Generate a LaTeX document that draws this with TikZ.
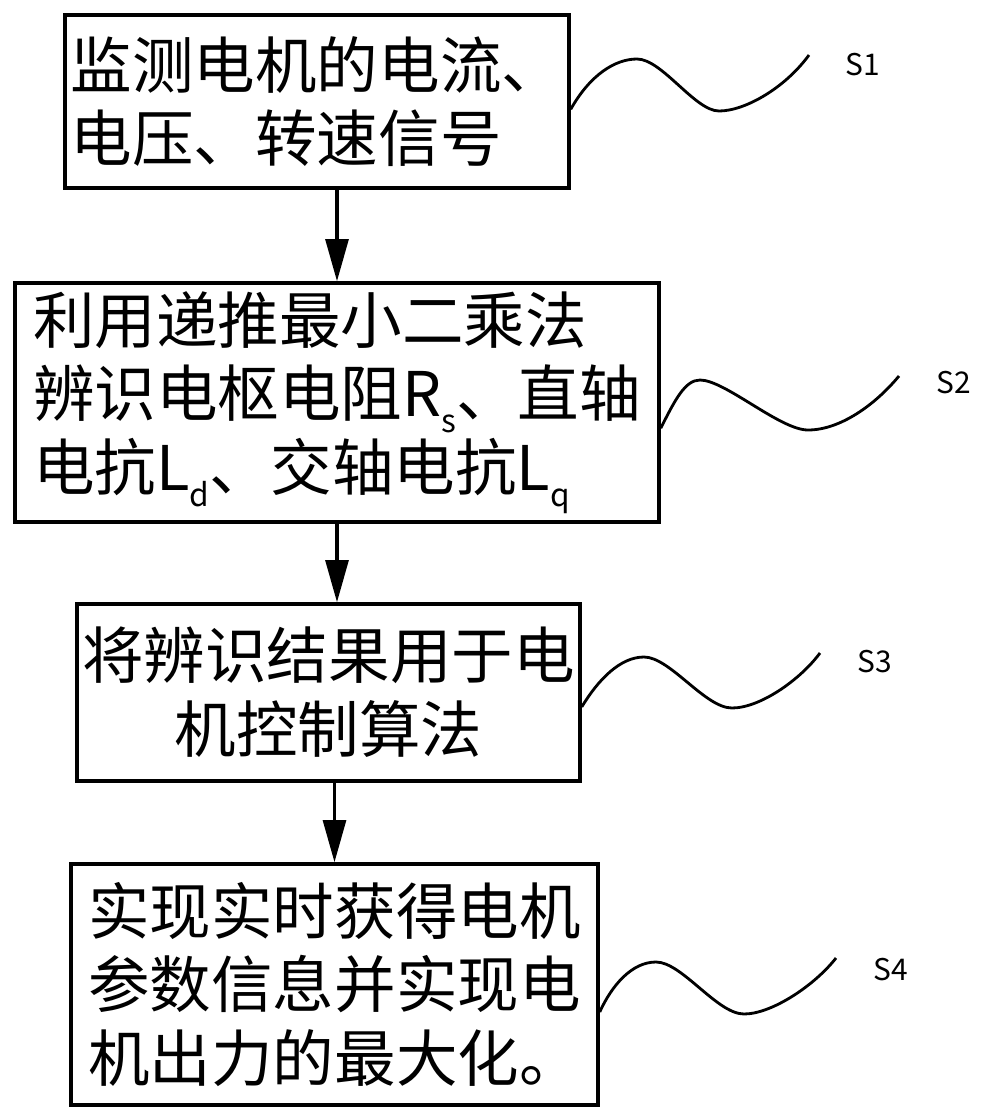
\documentclass[tikz,border=0pt]{standalone}
\usepackage{fontspec}
\setmainfont{Noto Sans CJK SC}
\usetikzlibrary{arrows.meta}

\newcommand{\subtxt}[1]{\raisebox{-4.5pt}{\fontsize{9}{9}\selectfont #1}}

\begin{document}
\begin{tikzpicture}[x=0.01cm,y=-0.01cm,
    box/.style={draw,line width=1pt,align=left,inner sep=0pt,font=\fontsize{17.5}{21}\selectfont},
    lbl/.style={font=\fontsize{8.5}{10}\selectfont},
    arr/.style={-{Triangle[length=12pt,width=6.5pt]},line width=1pt},
    wave/.style={line width=0.8pt}]

    \useasboundingbox (0,0) rectangle (984,1117);

    % Nodes
    \node[box,minimum width=504*0.01cm,minimum height=173*0.01cm] (b1) at (317,101.5)
        {监测电机的电流、\\电压、转速信号};
    \node[box,minimum width=644*0.01cm,minimum height=239*0.01cm] (b2) at (337,402.5)
        {利用递推最小二乘法\\辨识电枢电阻R\subtxt{s}、直轴\\电抗L\subtxt{d}、交轴电抗L\subtxt{q}};
    \node[box,align=center,minimum width=503*0.01cm,minimum height=177*0.01cm] (b3) at (328.5,692.5)
        {将辨识结果用于电\\机控制算法};
    \node[box,minimum width=527*0.01cm,minimum height=241*0.01cm] (b4) at (334.5,984.5)
        {实现实时获得电机\\参数信息并实现电\\机出力的最大化。};

    \coordinate (w1) at (809,55);
    \coordinate (w2) at (899,376);
    \coordinate (w3) at (820,653);
    \coordinate (w4) at (836,958);

    \node[lbl] (s1) at (863,65) {S1};
    \node[lbl] (s2) at (954,383) {S2};
    \node[lbl] (s3) at (875,662) {S3};
    \node[lbl] (s4) at (891,970) {S4};

    % Edges
    \draw[arr] (b1.south -| b2.north) -- (b2.north);
    \draw[arr] (b2.south) -- (b2.south |- b3.north);
    \draw[arr] (b3.south -| b4.north) -- (b4.north);

    % Waves
    \draw[wave] ([yshift=-2.2pt]b1.east) .. controls (590,75) and (615,59) .. (637,59)
        .. controls (662,59) and (695,111) .. (719,111)
        .. controls (745,111) and (785,88) .. (w1);
    \draw[wave] ([yshift=-7.3pt]b2.east) .. controls (675,400) and (685,380) .. (700,380)
        .. controls (725,380) and (780,430) .. (808,430)
        .. controls (840,430) and (875,405) .. (w2);
    \draw[wave] ([yshift=-4.1pt]b3.east) .. controls (598,680) and (620,657) .. (644,657)
        .. controls (670,657) and (705,708) .. (732,708)
        .. controls (760,708) and (800,680) .. (w3);
    \draw[wave] ([yshift=-7.8pt]b4.east) .. controls (612,985) and (632,962) .. (656,962)
        .. controls (682,962) and (717,1014) .. (744,1014)
        .. controls (772,1014) and (815,985) .. (w4);

\end{tikzpicture}
\end{document}
